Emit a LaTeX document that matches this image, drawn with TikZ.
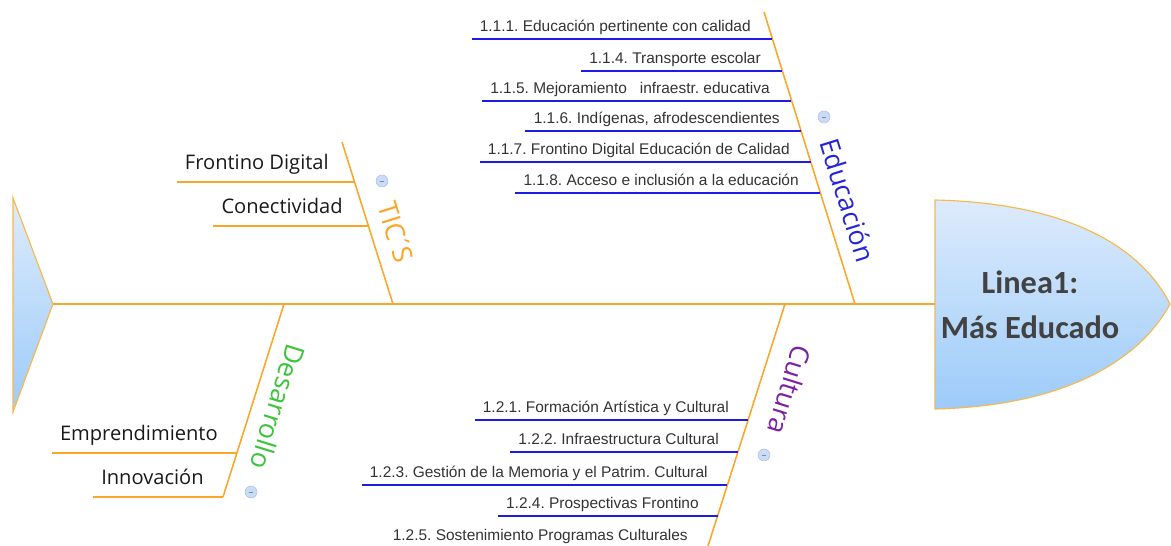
\documentclass[tikz,border=0pt]{standalone}
\usepackage{fontspec}
\setmainfont{Liberation Sans}
\newfontfamily\uifont{Open Sans}
\newfontfamily\headfont{Carlito}
\usetikzlibrary{calc}
\frenchspacing

\definecolor{bone}{HTML}{FBA62A}
\definecolor{itemblue}{HTML}{1C1CE6}
\definecolor{headtop}{HTML}{DDEBFB}
\definecolor{headbot}{HTML}{9CCBFA}
\definecolor{headline}{HTML}{F7B84B}
\definecolor{headtext}{HTML}{424242}
\definecolor{edublue}{HTML}{2424D8}
\definecolor{culpurple}{HTML}{7B1FA8}
\definecolor{desgreen}{HTML}{3BC43B}
\definecolor{btnfill}{HTML}{C9DBF6}
\definecolor{btnline}{HTML}{A9C3EC}

\tikzset{
  mainline/.style={draw=bone, line width=1.4pt},
  rib/.style={draw=bone, line width=1.1pt},
  bluesub/.style={draw=itemblue, line width=1.2pt},
  orangesub/.style={draw=bone, line width=1.1pt},
  item/.style={font=\fontsize{11}{13}\selectfont, text=black!80, inner sep=0pt, anchor=base east},
  subitem/.style={font=\uifont\fontsize{14.3}{16}\selectfont, text=black!90, inner sep=0pt, anchor=base east},
  ribtitle/.style={font=\uifont\fontsize{19}{21}\selectfont, inner sep=0pt},
  fishpart/.style={draw=headline, line width=0.8pt, top color=headtop, bottom color=headbot},
  collapse/.style={circle, fill=btnfill, draw=btnline, line width=0.4pt, minimum size=0.3cm, inner sep=0pt,
    path picture={\draw[black!45, line width=0.5pt] ([xshift=-1.6pt]path picture bounding box.center) -- ([xshift=1.6pt]path picture bounding box.center);}}
}

\begin{document}
\begin{tikzpicture}[x=0.025cm, y=-0.025cm]
    \useasboundingbox (0,0) rectangle (1171,546);

    % the tail
    \draw[fishpart] (13,198) -- (53,304) -- (13,412) -- cycle;
    \coordinate (tail) at (53,304);

    % the head
    \draw[fishpart] (935,200) .. controls (1065,203) and (1140,245) .. (1170,304)
        .. controls (1140,360) and (1065,406) .. (935,409) -- cycle;
    \coordinate (head) at (935,304);
    \node[font=\headfont\bfseries\fontsize{23}{32}\selectfont, text=headtext, align=center] (title) at (1030,305) {Linea1:\\Más Educado};

    % the spine
    \draw[mainline] (tail) -- (head);

    % Educacion rib
    \coordinate (edutop) at (764,12);
    \coordinate (edufoot) at (855,304);
    \draw[rib] (edutop) -- (edufoot);
    \node[ribtitle, text=edublue, rotate=-72.7] (edu) at (848,200) {Educación};
    \node[collapse] (edubtn) at (824,117) {};

    \coordinate (edu1) at (772,39);
    \node[item] (edu1txt) at ($(edu1)+(-21,-8)$) {1.1.1. Educación pertinente con calidad};
    \draw[bluesub] (edu1) -- ($(edu1 -| edu1txt.west)+(-8,0)$);
    \coordinate (edu4) at (782,71);
    \node[item] (edu4txt) at ($(edu4)+(-21,-8)$) {1.1.4. Transporte escolar};
    \draw[bluesub] (edu4) -- ($(edu4 -| edu4txt.west)+(-8,0)$);
    \coordinate (edu5) at (791,101);
    \node[item] (edu5txt) at ($(edu5)+(-21,-8)$) {1.1.5. Mejoramiento\ \ \ infraestr. educativa};
    \draw[bluesub] (edu5) -- ($(edu5 -| edu5txt.west)+(-8,0)$);
    \coordinate (edu6) at (801,131);
    \node[item] (edu6txt) at ($(edu6)+(-21,-8)$) {1.1.6. Indígenas, afrodescendientes};
    \draw[bluesub] (edu6) -- ($(edu6 -| edu6txt.west)+(-8,0)$);
    \coordinate (edu7) at (811,162);
    \node[item] (edu7txt) at ($(edu7)+(-21,-8)$) {1.1.7. Frontino Digital Educación de Calidad};
    \draw[bluesub] (edu7) -- ($(edu7 -| edu7txt.west)+(-8,0)$);
    \coordinate (edu8) at (820,193);
    \node[item] (edu8txt) at ($(edu8)+(-21,-8)$) {1.1.8. Acceso e inclusión a la educación};
    \draw[bluesub] (edu8) -- ($(edu8 -| edu8txt.west)+(-8,0)$);

    % TIC'S rib
    \coordinate (tictop) at (342,142);
    \coordinate (ticfoot) at (393,304);
    \draw[rib] (tictop) -- (ticfoot);
    \node[ribtitle, text=bone, rotate=-72.7] (tic) at (396,232) {TIC\kern-0.12em´\kern-0.12em S};
    \node[collapse] (ticbtn) at (382,181) {};

    \coordinate (tic1) at (355,182);
    \node[subitem] (tic1txt) at ($(tic1)+(-26,-13)$) {Frontino Digital};
    \draw[orangesub] (tic1) -- ($(tic1 -| tic1txt.west)+(-8,0)$);
    \coordinate (tic2) at (369,226);
    \node[subitem] (tic2txt) at ($(tic2)+(-26,-13)$) {Conectividad};
    \draw[orangesub] (tic2) -- ($(tic2 -| tic2txt.west)+(-8,0)$);

    % Desarrollo rib
    \coordinate (destop) at (284,304);
    \coordinate (desfoot) at (223,497);
    \draw[rib] (destop) -- (desfoot);
    \node[ribtitle, text=desgreen, rotate=-107.3] (des) at (278,407) {Desarrollo};
    \node[collapse] (desbtn) at (251,492) {};

    \coordinate (des1) at (237,453);
    \node[subitem] (des1txt) at ($(des1)+(-19,-13)$) {Emprendimiento};
    \draw[orangesub] (des1) -- ($(des1 -| des1txt.west)+(-8,0)$);
    \coordinate (des2) at (223,497);
    \node[subitem] (des2txt) at ($(des2)+(-19,-13)$) {Innovación};
    \draw[orangesub] (des2) -- ($(des2 -| des2txt.west)+(-8,0)$);

    % Cultura rib
    \coordinate (cultop) at (785,304);
    \coordinate (culfoot) at (708,546);
    \draw[rib] (cultop) -- (culfoot);
    \node[ribtitle, text=culpurple, rotate=-107.3] (cul) at (790,390) {Cultura};
    \node[collapse] (culbtn) at (764,455) {};

    \coordinate (cul1) at (748,420);
    \node[item] (cul1txt) at ($(cul1)+(-19,-8)$) {1.2.1. Formación Artística y Cultural};
    \draw[bluesub] (cul1) -- ($(cul1 -| cul1txt.west)+(-8,0)$);
    \coordinate (cul2) at (738,452);
    \node[item] (cul2txt) at ($(cul2)+(-19,-8)$) {1.2.2. Infraestructura Cultural};
    \draw[bluesub] (cul2) -- ($(cul2 -| cul2txt.west)+(-8,0)$);
    \coordinate (cul3) at (727,485);
    \node[item] (cul3txt) at ($(cul3)+(-19,-8)$) {1.2.3. Gestión de la Memoria y el Patrim. Cultural};
    \draw[bluesub] (cul3) -- ($(cul3 -| cul3txt.west)+(-8,0)$);
    \coordinate (cul4) at (718,516);
    \node[item] (cul4txt) at ($(cul4)+(-19,-8)$) {1.2.4. Prospectivas Frontino};
    \draw[bluesub] (cul4) -- ($(cul4 -| cul4txt.west)+(-8,0)$);
    \node[item] (cul5txt) at (688,540) {1.2.5. Sostenimiento Programas Culturales};
\end{tikzpicture}
\end{document}
